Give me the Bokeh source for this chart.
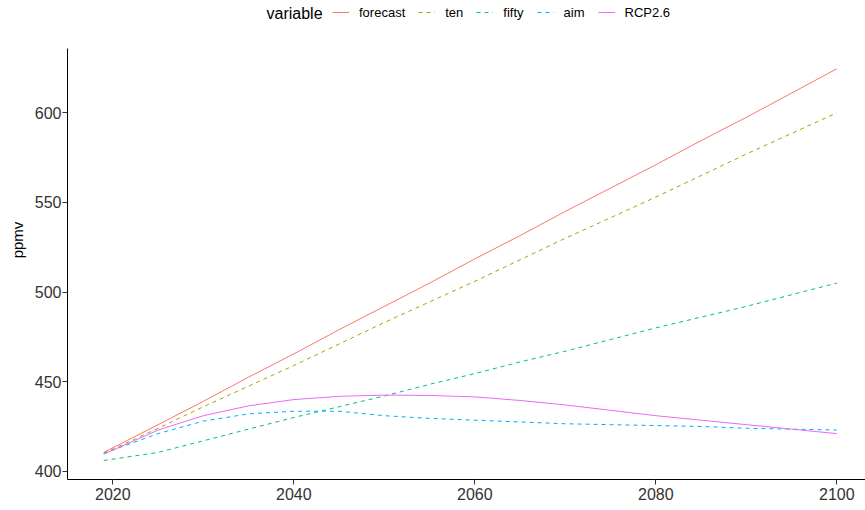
from bokeh.plotting import figure
from bokeh.models import Range1d, FixedTicker, Legend, LegendItem, Label
from bokeh.embed import file_html
from bokeh.resources import INLINE

# ---- data ----
years = [2019, 2025, 2030, 2035, 2040, 2045, 2050, 2055, 2060, 2065, 2070, 2075, 2080, 2085, 2090, 2095, 2100]
forecast = [410.5, 426, 439, 452.5, 465.5, 479, 492, 505, 518.5, 531.5, 545, 558, 571, 584.5, 597.5, 611, 624.6]
ten = [410, 424, 436, 447.5, 459, 471, 483, 494.5, 506, 518, 530, 541.5, 553, 565, 577, 588.5, 600]
fifty = [406, 410.5, 417, 423.5, 430, 436, 442, 448.5, 454.5, 461, 467, 473.5, 480, 486, 492, 498.5, 505]
aim = [410, 421, 428, 432, 433.5, 433.5, 431, 429.5, 428.5, 427.5, 426.5, 426, 425.5, 425, 424, 423.5, 423]
rcp26 = [409.5, 423, 431, 436.5, 440, 441.8, 442.5, 442.3, 441.5, 439.5, 437, 434, 431, 428.5, 426, 423.5, 421]

series_names = ["forecast", "ten", "fifty", "aim", "RCP2.6"]
series_values = [forecast, ten, fifty, aim, rcp26]
series_colors = ["#F8766D", "#A3A500", "#00BF7D", "#00B0F6", "#E76BF3"]
series_dashes = ["solid", "4 4", "4 4", "4 4", "solid"]

x_ticks = [2020, 2040, 2060, 2080, 2100]
y_ticks = [400, 450, 500, 550, 600]

FONT = "Liberation Sans"

Y_LO, Y_HI = 395.4, 635.9          # visible panel range
Y_TOP = Y_HI + 48 * (Y_HI - Y_LO) / 431  # extra room above the panel for the legend

p = figure(
    frame_width=798, frame_height=479,
    min_border_left=67, min_border_top=0, min_border_right=0, min_border_bottom=2,
    x_range=Range1d(2014.99, 2103.17), y_range=Range1d(Y_LO, Y_TOP),
    output_backend="svg", toolbar_location=None,
)
p.background_fill_color = "white"
p.border_fill_color = "white"
p.outline_line_color = None
p.xgrid.visible = False
p.ygrid.visible = False

renderers = []
for name, vals, col, dash in zip(series_names, series_values, series_colors, series_dashes):
    r = p.line(years, vals, line_color=col, line_width=1, line_dash=dash)
    renderers.append(r)

for ax in (p.xaxis[0], p.yaxis[0]):
    ax.axis_line_color = "black"
    ax.axis_line_width = 1
    ax.major_tick_line_color = "#333333"
    ax.major_tick_out = 5
    ax.major_tick_in = 0
    ax.minor_tick_line_color = None
    ax.major_label_text_font = FONT
    ax.major_label_text_font_size = "16px"
    ax.major_label_text_color = "#333333"

p.yaxis.bounds = (Y_LO, Y_HI)
p.xaxis.ticker = FixedTicker(ticks=x_ticks)
p.yaxis.ticker = FixedTicker(ticks=y_ticks)
p.xaxis.major_label_standoff = 3
p.yaxis.major_label_standoff = 1
p.yaxis.axis_label = "ppmv"
p.yaxis.axis_label_text_font = FONT
p.yaxis.axis_label_text_font_size = "15px"
p.yaxis.axis_label_text_font_style = "normal"
p.yaxis.axis_label_text_color = "black"
p.yaxis.axis_label_standoff = 6

items = [LegendItem(label=n, renderers=[r]) for n, r in zip(series_names, renderers)]
legend = Legend(
    items=items, orientation="horizontal", location=(265, 459.5),
    padding=0, margin=0, spacing=13,
    border_line_alpha=0, background_fill_alpha=0,
    glyph_width=17, glyph_height=14, label_height=14, label_width=0,
    label_standoff=10,
    label_text_font=FONT, label_text_font_size="13px", label_text_color="black",
)
p.add_layout(legend, "center")

title_lbl = Label(
    x=199, y=466.5, x_units="screen", y_units="screen", text="variable",
    text_font=FONT, text_font_size="16px", text_color="black", text_baseline="middle",
)
p.add_layout(title_lbl)

open("out.html", "w").write(file_html(p, INLINE))
